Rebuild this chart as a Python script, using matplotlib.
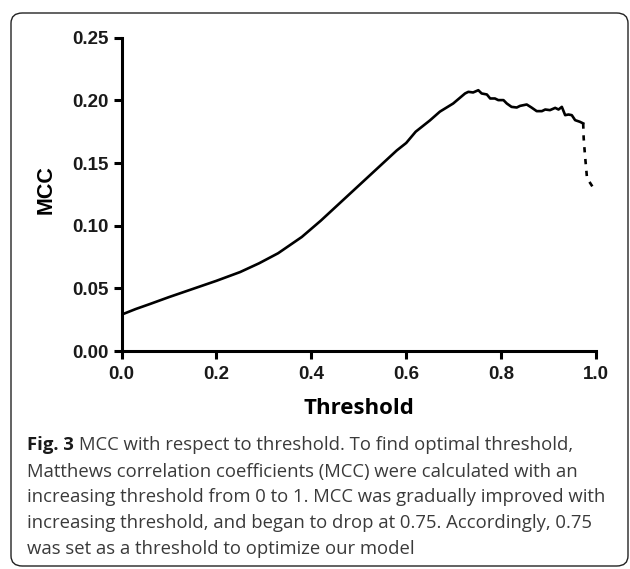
import matplotlib.pyplot as plt
from matplotlib.patches import FancyBboxPatch

# MCC curve
threshold = [0.00, 0.03, 0.06, 0.10, 0.15, 0.20, 0.25, 0.29, 0.33, 0.38,
             0.42, 0.46, 0.50, 0.54, 0.58, 0.60, 0.62, 0.65, 0.671, 0.699,
             0.724, 0.731, 0.741, 0.752, 0.759, 0.770, 0.777, 0.787, 0.794,
             0.805, 0.812, 0.822, 0.833, 0.840, 0.854, 0.864, 0.875, 0.886,
             0.893, 0.903, 0.914, 0.921, 0.928, 0.935, 0.942, 0.949, 0.956,
             0.966, 0.973]
mcc = [0.029, 0.0335, 0.0375, 0.043, 0.0495, 0.056, 0.063, 0.070, 0.078, 0.091,
       0.104, 0.118, 0.132, 0.146, 0.160, 0.166, 0.175, 0.184, 0.191, 0.1975,
       0.2055, 0.2068, 0.2063, 0.2081, 0.2055, 0.2047, 0.2015, 0.2015, 0.2002,
       0.2002, 0.1975, 0.1948, 0.1943, 0.1956, 0.1967, 0.1943, 0.1914, 0.1914,
       0.1927, 0.1922, 0.1940, 0.1927, 0.1948, 0.1882, 0.1887, 0.1882, 0.1842,
       0.1829, 0.1816]
# steep drop at the end (drawn broken in the original)
drop_threshold = [0.973, 0.974, 0.976, 0.978, 0.979, 0.981, 0.998]
drop_mcc = [0.1816, 0.170, 0.160, 0.151, 0.147, 0.138, 0.128]

xticks = [0.0, 0.2, 0.4, 0.6, 0.8, 1.0]
yticks = [0.00, 0.05, 0.10, 0.15, 0.20, 0.25]

W, H = 630, 569
fig = plt.figure(figsize=(W / 100, H / 100), dpi=100)

# rounded frame round the whole figure
frame = FancyBboxPatch((11 / W, 1 - 566 / H), 617 / W, 553 / H,
                       boxstyle="round,pad=0,rounding_size=0.018",
                       transform=fig.transFigure, fill=False,
                       edgecolor="#222222", linewidth=1.0)
fig.patches.append(frame)

ax = fig.add_axes([121.5 / W, 1 - 351 / H, 474.5 / W, 313.3 / H])
ax.plot(threshold, mcc, color="black", linewidth=1.9, solid_joinstyle="round")
ax.plot(drop_threshold, drop_mcc, color="black", linewidth=1.9,
        linestyle=(0, (2.0, 2.5)))

ax.set_xlim(0, 1)
ax.set_ylim(0, 0.25)
ax.set_xticks(xticks)
ax.set_yticks(yticks)
ax.set_xticklabels([f"{v:.1f}" for v in xticks])
ax.set_yticklabels([f"{v:.2f}" for v in yticks])
for s in ["top", "right"]:
    ax.spines[s].set_visible(False)
for s in ["left", "bottom"]:
    ax.spines[s].set_linewidth(2.2)
ax.tick_params(width=2.2, length=6, labelsize=13.5)
ax.tick_params(axis="x", pad=5)
ax.tick_params(axis="y", pad=3.5)
for lab in ax.get_xticklabels() + ax.get_yticklabels():
    lab.set_fontfamily("Liberation Sans")
    lab.set_fontweight("bold")
    lab.set_color("#1a1a1a")

fig.text(45.7 / W, 1 - 190 / H, "MCC", rotation=90, ha="center", va="center",
         fontsize=15.5, fontweight="bold", family="Liberation Sans")
fig.text(359 / W, 1 - 409 / H, "Threshold", ha="center", va="center",
         fontsize=16, fontweight="bold", family="Open Sans")

# caption
cap_lines = [
    "MCC with respect to threshold. To find optimal threshold,",
    "Matthews correlation coefficients (MCC) were calculated with an",
    "increasing threshold from 0 to 1. MCC was gradually improved with",
    "increasing threshold, and began to drop at 0.75. Accordingly, 0.75",
    "was set as a threshold to optimize our model",
]
cap_y = [445, 471.5, 497, 523, 549]
cap_x = 26.5
cap_size = 13.3
fig_lbl = fig.text(cap_x / W, 1 - cap_y[0] / H, "Fig. 3", ha="left",
                   va="center", fontsize=cap_size, fontweight="bold",
                   family="Open Sans", color="#1a1a1a")
r = fig.canvas.get_renderer()
bb = fig_lbl.get_window_extent(renderer=r)
fig.text(bb.x1 / W + 6 / W, 1 - cap_y[0] / H, cap_lines[0], ha="left",
         va="center", fontsize=cap_size, family="Open Sans", color="#3a3a3a")
for line, y in zip(cap_lines[1:], cap_y[1:]):
    fig.text(cap_x / W, 1 - y / H, line, ha="left", va="center",
             fontsize=cap_size, family="Open Sans", color="#3a3a3a")

fig.savefig("out.png", dpi=100)
